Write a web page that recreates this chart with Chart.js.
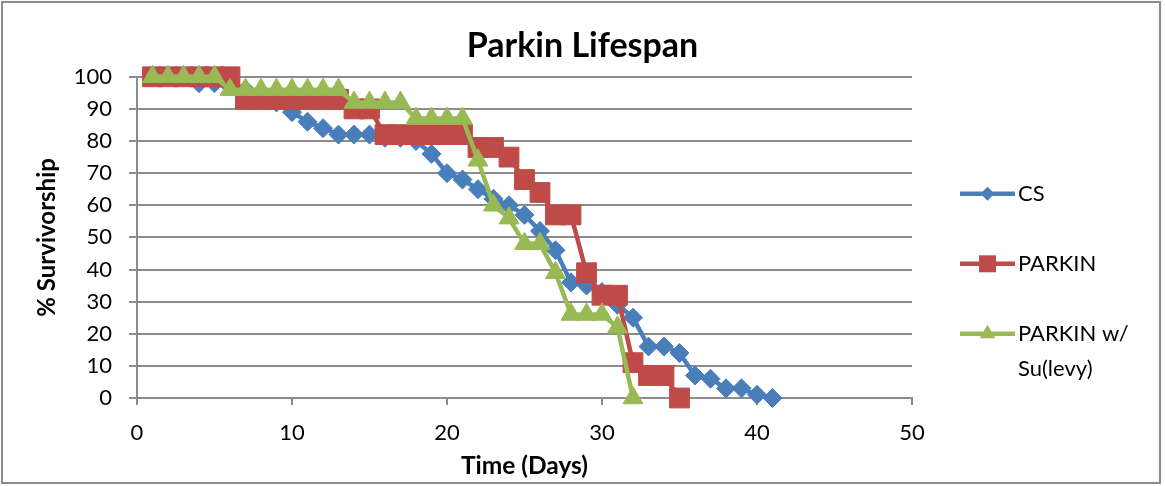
<!DOCTYPE html>
<html>
<head>
<meta charset="utf-8">
<title>Parkin Lifespan</title>
<script src="https://cdn.jsdelivr.net/npm/chart.js@4/dist/chart.umd.min.js"></script>
<style>
  html, body { margin: 0; padding: 0; background: #fff; }
  #wrap { position: relative; width: 1165px; height: 486px; }
  #frame { position: absolute; left: 1px; top: 1px; width: 1160px; height: 483px; border: 2px solid #8c8c8c; box-sizing: border-box; pointer-events: none; }
  canvas { position: absolute; left: 0; top: 0; }
</style>
</head>
<body>
<div id="wrap">
  <canvas id="Chart_0" width="1165" height="486"></canvas>
  <div id="frame"></div>
</div>
<script>
"use strict";

// % survivorship per day for each line
const csDays = [1,2,3,4,5,6,7,8,9,10,11,12,13,14,15,16,17,18,19,20,21,22,23,24,25,26,27,28,29,30,31,32,33,34,35,36,37,38,39,40,41];
const csValues = [100,100,100,98,98,97,96,93,92,89,86,84,82,82,82,81,81,80,76,70,68,65,62,60,57,52,46,36,35,33,29,25,16,16,14,7,6,3,3,1,0];

const parkinDays = [1,2,3,4,5,6,7,8,9,10,11,12,13,14,15,16,17,18,19,20,21,22,23,24,25,26,27,28,29,30,31,32,33,34,35];
const parkinValues = [100,100,100,100,100,100,93,93,93,93,93,93,93,90,90,82,82,82,82,82,82,78,78,75,68,64,57,57,39,32,32,11,7,7,0];

const levyDays = [1,2,3,4,5,6,7,8,9,10,11,12,13,14,15,16,17,18,19,20,21,22,23,24,25,26,27,28,29,30,31,32];
const levyValues = [100,100,100,100,100,96,96,96,96,96,96,96,96,92,92,92,92,87,87,87,87,74,60,56,48,48,39,26,26,26,22,0];

const seriesNames = ['CS', 'PARKIN', 'PARKIN w/ Su(levy)'];
const xTicks = [0, 10, 20, 30, 40, 50];
const yTicks = [0, 10, 20, 30, 40, 50, 60, 70, 80, 90, 100];

const FONT = "Lato, 'Open Sans', sans-serif";
const GRID = '#8c8c8c';

function toPoints(days, vals) {
  return days.map((d, i) => ({ x: d, y: vals[i] }));
}

function wrapText(ctx, text, maxW) {
  const words = text.split(' '), out = [];
  let cur = '';
  words.forEach(w => {
    const t = cur ? cur + ' ' + w : w;
    if (cur && ctx.measureText(t).width > maxW) { out.push(cur); cur = w; }
    else cur = t;
  });
  if (cur) out.push(cur);
  return out;
}

// title spans the whole canvas, not just the plot + axes
const wideTitle = {
  id: 'wideTitle',
  afterLayout(chart) {
    if (chart.titleBlock) { chart.titleBlock.left = 0; chart.titleBlock.right = chart.width; }
  }
};

// legend on the right: line + marker + label
const sideLegend = {
  id: 'sideLegend',
  afterDraw(chart) {
    const ctx = chart.ctx, area = chart.chartArea;
    const x0 = area.right + 48, lineLen = 55;
    let y = area.top + 117;
    ctx.save();
    ctx.font = '22px ' + FONT;
    ctx.textBaseline = 'middle';
    ctx.textAlign = 'left';
    chart.data.datasets.forEach(ds => {
      ctx.strokeStyle = ds.borderColor;
      ctx.lineWidth = ds.borderWidth;
      ctx.beginPath(); ctx.moveTo(x0, y); ctx.lineTo(x0 + lineLen, y); ctx.stroke();
      ctx.fillStyle = ds.pointBackgroundColor;
      Chart.helpers.drawPoint(ctx, { pointStyle: ds.pointStyle, radius: ds.legendRadius, rotation: 0, borderWidth: 0 }, x0 + lineLen / 2, y);
      ctx.fillStyle = '#000';
      wrapText(ctx, ds.label, 140).forEach((t, i) => ctx.fillText(t, x0 + lineLen + 3, y + i * 35));
      y += 70;
    });
    ctx.restore();
  }
};

Chart.defaults.font.family = FONT;
Chart.defaults.color = '#000';

const ctx = document.getElementById('Chart_0');
new Chart(ctx, {
  type: 'line',
  data: {
    datasets: [
      {
        label: seriesNames[0], data: toPoints(csDays, csValues), order: 3, clip: false,
        borderColor: '#4a7ebb', pointBackgroundColor: '#4a7ebb', pointBorderColor: '#4a7ebb',
        borderWidth: 4.5, pointStyle: 'rectRot', pointRadius: 9.5, pointBorderWidth: 1, legendRadius: 7
      },
      {
        label: seriesNames[1], data: toPoints(parkinDays, parkinValues), order: 2, clip: false,
        borderColor: '#be4b48', pointBackgroundColor: '#be4b48', pointBorderColor: '#be4b48',
        borderWidth: 4.5, pointStyle: 'rect', pointRadius: 14, pointBorderWidth: 1, legendRadius: 12
      },
      {
        label: seriesNames[2], data: toPoints(levyDays, levyValues), order: 1, clip: false,
        borderColor: '#98b954', pointBackgroundColor: '#98b954', pointBorderColor: '#98b954',
        borderWidth: 4.5, pointStyle: 'triangle', pointRadius: 11.5, pointBorderWidth: 1, legendRadius: 9
      }
    ]
  },
  options: {
    responsive: false,
    animation: false,
    layout: { padding: { top: 0, right: 253, bottom: 0, left: 0 } },
    elements: { line: { tension: 0 } },
    plugins: {
      legend: { display: false },
      tooltip: { enabled: false },
      title: {
        display: true, text: 'Parkin Lifespan', color: '#000',
        font: { size: 34, weight: 'bold', lineHeight: 1.2 },
        padding: { top: 26, bottom: 10 }
      }
    },
    scales: {
      x: {
        type: 'linear', min: xTicks[0], max: xTicks[xTicks.length - 1],
        afterBuildTicks: s => { s.ticks = xTicks.map(v => ({ value: v })); },
        afterFit: s => { s.height = 88; },
        ticks: { font: { size: 22 }, padding: 15, color: '#000' },
        grid: { drawOnChartArea: false, drawTicks: true, tickLength: 7, color: GRID, lineWidth: 2 },
        border: { color: GRID, width: 2 },
        title: { display: true, text: 'Time (Days)', font: { size: 24.5, weight: 'bold', lineHeight: 1.2 }, padding: { top: 0, bottom: 5 } }
      },
      y: {
        min: yTicks[0], max: yTicks[yTicks.length - 1],
        afterBuildTicks: s => { s.ticks = yTicks.map(v => ({ value: v })); },
        afterFit: s => { s.width = 137; },
        ticks: { font: { size: 22 }, padding: 17, color: '#000' },
        grid: { color: GRID, lineWidth: 2, drawTicks: true, tickLength: 8 },
        border: { color: GRID, width: 2 },
        title: { display: true, text: '% Survivorship', font: { size: 24, weight: 'bold', lineHeight: 1.2 }, padding: { top: 33 } }
      }
    }
  },
  plugins: [wideTitle, sideLegend]
});
</script>
</body>
</html>
